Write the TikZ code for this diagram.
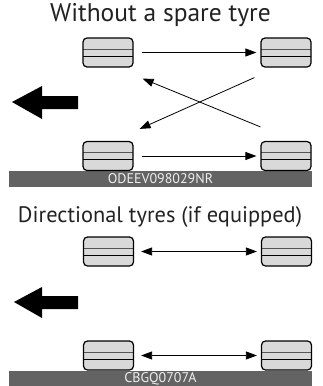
\documentclass[tikz,border=0pt]{standalone}
\usepackage{fontspec}
\setmainfont{PT Sans}
\usetikzlibrary{arrows.meta,calc}
\tikzset{
  tyre/.style={draw=black, line width=1.2pt, fill=tyrefill, rounded corners=4pt,
    minimum width=50pt, minimum height=29pt, inner sep=0pt,
    path picture={
      \draw[line width=1pt, tyreline] ([yshift=3.5pt]path picture bounding box.west) -- ([yshift=3.5pt]path picture bounding box.east);
      \draw[line width=1pt, black] ([yshift=-3.5pt]path picture bounding box.west) -- ([yshift=-3.5pt]path picture bounding box.east);
    }},
  conn/.style={line width=0.8pt, -{Triangle[length=11pt,width=8pt]}},
  dconn/.style={line width=0.8pt, {Triangle[length=11pt,width=8pt]}-{Triangle[length=11pt,width=8pt]}},
  bar/.style={fill=bargray, draw=none, inner sep=0pt, minimum width=303pt, minimum height=16pt,
    text=bartext, font=\fontsize{14}{14}\selectfont},
  title/.style={text=titlecol, inner sep=0pt, anchor=base},
  bigarrow/.style={fill=black, draw=none}
}
\definecolor{tyrefill}{HTML}{D9D9D9}
\definecolor{tyreline}{HTML}{555555}
\definecolor{bargray}{HTML}{636363}
\definecolor{bartext}{HTML}{EEEEEE}
\definecolor{titlecol}{HTML}{222222}
\begin{document}
\begin{tikzpicture}[x=1pt,y=-1pt]
\useasboundingbox (0,0) rectangle (322,386);
% ---------- top part ----------
\node[title, font=\fontsize{25.5}{25.5}\selectfont] (t1) at (160.5,21.7) {Without a spare tyre};
\node[bar] (bar1) at (160.5,179) {ODEEV098029NR};
\node[tyre] (tl) at (108,52.5) {};
\node[tyre] (tr) at (286,52.5) {};
\node[tyre] (bl) at (108,156) {};
\node[tyre] (br) at (286,156) {};
\draw[conn] ([xshift=8pt]tl.east) -- ([xshift=-4pt]tr.west);
\draw[conn] ([xshift=8pt]bl.east) -- ([xshift=-4pt]br.west);
\coordinate (d1s) at ($(tr.south west)+(-6,10)$);
\coordinate (d1e) at ($(bl.north east)+(6,-12)$);
\coordinate (d2s) at ($(br.north west)+(0,-14)$);
\coordinate (d2e) at ($(tl.south east)+(9,11)$);
\draw[conn] (d1s) -- (d1e);
\draw[conn] (d2s) -- (d2e);
\fill[bigarrow] (12,102) -- (42,86) -- (42,96) -- (78,96) -- (78,109) -- (42,109) -- (42,119) -- cycle;
% ---------- bottom part ----------
\node[title, font=\fontsize{22.4}{22.4}\selectfont] (t2) at (160,222) {Directional tyres (if equipped)};
\node[bar] (bar2) at (160.5,379) {CBGQ0707A};
\node[tyre] (tl2) at (108.5,251.5) {};
\node[tyre] (tr2) at (286.5,251.5) {};
\node[tyre] (bl2) at (108.5,355.5) {};
\node[tyre] (br2) at (286.5,355.5) {};
\draw[dconn] ([xshift=7pt]tl2.east) -- ([xshift=-4pt]tr2.west);
\draw[dconn] ([xshift=7pt]bl2.east) -- ([xshift=-4pt]br2.west);
\fill[bigarrow] (14,302) -- (42,287) -- (42,296) -- (78,296) -- (78,309) -- (42,309) -- (42,318) -- cycle;
\end{tikzpicture}
\end{document}
